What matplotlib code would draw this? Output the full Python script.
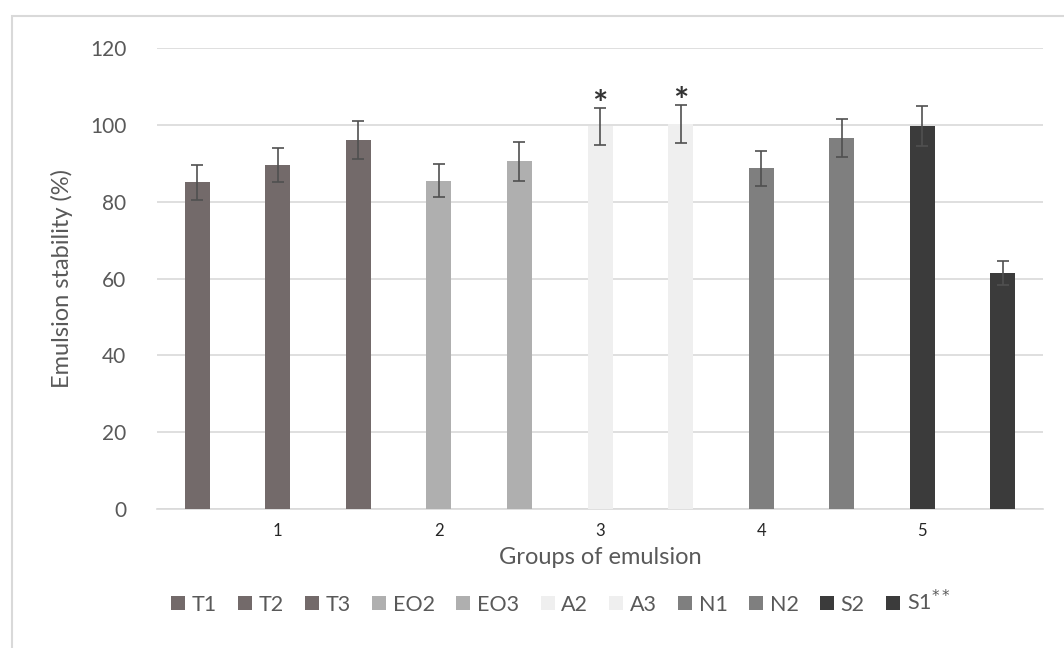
import matplotlib.pyplot as plt
from matplotlib.patches import Rectangle

plt.rcParams['font.family'] = ['Lato', 'DejaVu Sans']

# Emulsion stability per sample (%)
labels = ['T1', 'T2', 'T3', 'EO2', 'EO3', 'A2', 'A3', 'N1', 'N2', 'S2', 'S1']
values = [85.0, 89.6, 96.1, 85.5, 90.5, 99.6, 100.2, 88.7, 96.6, 99.8, 61.4]
errors = [4.5, 4.5, 5.0, 4.4, 5.0, 4.8, 5.0, 4.5, 5.0, 5.2, 3.2]
colors = ['#736a6a', '#736a6a', '#736a6a', '#afafaf', '#afafaf',
          '#efefef', '#efefef', '#7f7f7f', '#7f7f7f', '#3b3b3b', '#3b3b3b']
group_names = ['1', '2', '3', '4', '5']
starred = ['A2', 'A3']

fig = plt.figure(figsize=(10.64, 6.48), dpi=100)
ax = fig.add_axes([0.1476, 0.2145, 0.8327, 0.7114])

# light frame round the chart area, like the Excel chart border
fig.patches.append(Rectangle((12 / 1064, -0.05), 1.1, 1 - 16 / 648 + 0.05,
                             transform=fig.transFigure, fill=False,
                             edgecolor='#d9d9d9', linewidth=1.5))

handles = []
for i, (lab, v, e, c) in enumerate(zip(labels, values, errors, colors)):
    b = ax.bar(i, v, width=0.31, color=c, label=lab, zorder=3)
    ax.errorbar(i, v, yerr=e, fmt='none', ecolor='#505050', elinewidth=1.2,
                capsize=4.6, capthick=1.2, zorder=4)
    handles.append(b)
    if lab in starred:
        ax.text(i, v + e - 2.0, '*', ha='center', va='baseline', fontsize=26,
                color='#333333', fontweight='bold', zorder=5)

ax.set_xlim(-0.5, 10.5)
ax.set_ylim(0, 120)
ax.set_yticks(range(0, 121, 20))
ax.set_xticks([1, 3, 5, 7, 9])
ax.set_xticklabels(group_names)
ax.grid(axis='y', color='#d9d9d9', linewidth=1.2, zorder=0)
for s in ['top', 'right', 'left']:
    ax.spines[s].set_visible(False)
ax.spines['bottom'].set_color('#d9d9d9')
ax.spines['bottom'].set_linewidth(1.2)
ax.tick_params(axis='y', length=0, pad=22, labelsize=15, labelcolor='#595959')
ax.tick_params(axis='x', length=0, pad=10, labelsize=12, labelcolor='#262626')

ax.set_ylabel('Emulsion stability (%)', fontsize=17, color='#595959', labelpad=12)
ax.set_xlabel('Groups of emulsion', fontsize=17, color='#595959', labelpad=6)

leg_labels = labels[:-1] + ['S1$^{**}$']
ax.legend(handles, leg_labels, ncol=11, loc='center',
          bbox_to_anchor=(0.527, 1 - 602 / 648), bbox_transform=fig.transFigure,
          frameon=False, fontsize=15.5, labelcolor='#595959',
          handlelength=0.65, handleheight=0.65, handletextpad=0.3,
          columnspacing=1.0)

fig.savefig('out.png', dpi=100)
